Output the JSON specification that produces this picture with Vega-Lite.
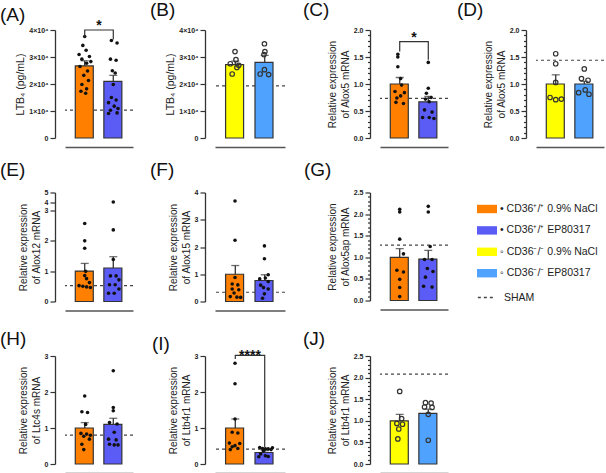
{
"$schema": "https://vega.github.io/schema/vega-lite/v6.json",
"padding": {"left": 0, "top": 1, "right": 0, "bottom": 0},
"background": "white",
"config": {
 "font": "Liberation Sans",
 "view": {"stroke": null},
 "axis": {"grid": false, "domainColor": "#333", "tickColor": "#333", "labelColor": "#222", "titleColor": "#222", "labelFont": "Liberation Sans", "titleFont": "Liberation Sans", "titleFontWeight": "normal", "labelOverlap": false},
 "axisX": {"labels": false, "ticks": false, "domainColor": "#555", "domainWidth": 1.6, "offset": 9},
 "axisY": {"offset": 10, "tickSize": 5, "labelPadding": 2, "titlePadding": 3, "domainWidth": 1.3, "tickWidth": 1.2, "labelFontSize": 7, "labelFontWeight": "bold", "titleFontSize": 10, "titleLineHeight": 13, "labelOverlap": false, "labelBound": false},
 "title": {"anchor": "start", "frame": "group", "fontSize": 19, "fontWeight": "normal", "color": "#111", "baseline": "alphabetic", "offset": 6},
 "legend": {"labelFont": "Liberation Sans", "labelColor": "#222"}
},
"datasets": {
 "summary": [
  {"p":"A","g":"WT NaCl","m":26700,"u":28600},{"p":"A","g":"WT EP","m":21000,"u":23200},
  {"p":"B","g":"KO NaCl","m":27200,"u":28500},{"p":"B","g":"KO EP","m":28000,"u":30600},
  {"p":"C","g":"WT NaCl","m":1.0,"u":1.12},{"p":"C","g":"WT EP","m":0.67,"u":0.77},
  {"p":"D","g":"KO NaCl","m":1.0,"u":1.17},{"p":"D","g":"KO EP","m":1.0,"u":1.05},
  {"p":"E","g":"WT NaCl","m":1.0,"u":1.25},{"p":"E","g":"WT EP","m":1.1,"u":1.47},
  {"p":"F","g":"WT NaCl","m":1.0,"u":1.32},{"p":"F","g":"WT EP","m":0.77,"u":0.98},
  {"p":"G","g":"WT NaCl","m":1.0,"u":1.2},{"p":"G","g":"WT EP","m":0.96,"u":1.16},
  {"p":"H","g":"WT NaCl","m":1.0,"u":1.15},{"p":"H","g":"WT EP","m":1.1,"u":1.27},
  {"p":"I","g":"WT NaCl","m":1.0,"u":1.25},{"p":"I","g":"WT EP","m":0.32,"u":0.37},
  {"p":"J","g":"KO NaCl","m":1.0,"u":1.15},{"p":"J","g":"KO EP","m":1.17,"u":1.27}
 ],
 "sham": [
  {"p":"A","v":10300},{"p":"B","v":19300},{"p":"C","v":0.735},{"p":"D","v":1.44},{"p":"E","v":0.52},
  {"p":"F","v":0.34},{"p":"G","v":1.28},{"p":"H","v":0.8},{"p":"I","v":0.415},{"p":"J","v":2.08}
 ],
 "br": [
  {"p":"A","g":"WT NaCl","v":37500,"o":1},{"p":"A","g":"WT NaCl","v":40000,"o":2},{"p":"A","g":"WT EP","v":40000,"o":3},{"p":"A","g":"WT EP","v":36500,"o":4},
  {"p":"C","g":"WT NaCl","v":1.6,"o":1},{"p":"C","g":"WT NaCl","v":1.785,"o":2},{"p":"C","g":"WT EP","v":1.785,"o":3},{"p":"C","g":"WT EP","v":1.45,"o":4},
  {"p":"I","g":"WT NaCl","v":2.92,"o":1},{"p":"I","g":"WT NaCl","v":3.02,"o":2},{"p":"I","g":"WT EP","v":3.02,"o":3},{"p":"I","g":"WT EP","v":0.47,"o":4}
 ],
 "stars": [
  {"p":"A","g":"WT NaCl","v":40000,"t":"*"},
  {"p":"C","g":"WT NaCl","v":1.785,"t":"*"},
  {"p":"I","g":"WT NaCl","v":2.9,"t":"****"}
 ],
 "pts": [
  {"p":"A","g":"WT NaCl","v":37600,"j":0},{"p":"A","g":"WT NaCl","v":34300,"j":-0.2},{"p":"A","g":"WT NaCl","v":32500,"j":0.15},{"p":"A","g":"WT NaCl","v":30900,"j":-0.6},{"p":"A","g":"WT NaCl","v":30200,"j":0.5},{"p":"A","g":"WT NaCl","v":29200,"j":-0.3},{"p":"A","g":"WT NaCl","v":28300,"j":0.65},{"p":"A","g":"WT NaCl","v":27700,"j":0.2},{"p":"A","g":"WT NaCl","v":26500,"j":-0.5},{"p":"A","g":"WT NaCl","v":24800,"j":0.3},{"p":"A","g":"WT NaCl","v":23200,"j":-0.1},{"p":"A","g":"WT NaCl","v":21300,"j":0.4},{"p":"A","g":"WT NaCl","v":19800,"j":-0.3},{"p":"A","g":"WT NaCl","v":18200,"j":0.2},{"p":"A","g":"WT NaCl","v":17300,"j":-0.4},{"p":"A","g":"WT NaCl","v":16600,"j":0.1},
  {"p":"A","g":"WT EP","v":36100,"j":-0.2},{"p":"A","g":"WT EP","v":35200,"j":0.4},{"p":"A","g":"WT EP","v":29200,"j":-0.3},{"p":"A","g":"WT EP","v":28800,"j":0.3},{"p":"A","g":"WT EP","v":24900,"j":-0.1},{"p":"A","g":"WT EP","v":24100,"j":0.2},{"p":"A","g":"WT EP","v":19800,"j":0},{"p":"A","g":"WT EP","v":15000,"j":-0.2},{"p":"A","g":"WT EP","v":14100,"j":0.3},{"p":"A","g":"WT EP","v":13100,"j":-0.5},{"p":"A","g":"WT EP","v":11800,"j":0.1},{"p":"A","g":"WT EP","v":10900,"j":0.5},{"p":"A","g":"WT EP","v":10300,"j":-0.3},{"p":"A","g":"WT EP","v":9100,"j":-0.5},{"p":"A","g":"WT EP","v":9300,"j":0.4},
  {"p":"B","g":"KO NaCl","v":32000,"j":0},{"p":"B","g":"KO NaCl","v":29000,"j":0.1},{"p":"B","g":"KO NaCl","v":27500,"j":-0.5},{"p":"B","g":"KO NaCl","v":26900,"j":0.4},{"p":"B","g":"KO NaCl","v":26100,"j":0.2},{"p":"B","g":"KO NaCl","v":23700,"j":-0.3},
  {"p":"B","g":"KO EP","v":34900,"j":0},{"p":"B","g":"KO EP","v":32000,"j":0.05},{"p":"B","g":"KO EP","v":30900,"j":-0.05},{"p":"B","g":"KO EP","v":25300,"j":0},{"p":"B","g":"KO EP","v":23700,"j":-0.45},{"p":"B","g":"KO EP","v":23500,"j":0.45},
  {"p":"C","g":"WT NaCl","v":1.55,"j":-0.2},{"p":"C","g":"WT NaCl","v":1.5,"j":-0.2},{"p":"C","g":"WT NaCl","v":1.32,"j":-0.2},{"p":"C","g":"WT NaCl","v":1.1,"j":0.1},{"p":"C","g":"WT NaCl","v":0.98,"j":0.2},{"p":"C","g":"WT NaCl","v":0.86,"j":-0.5},{"p":"C","g":"WT NaCl","v":0.84,"j":0.5},{"p":"C","g":"WT NaCl","v":0.78,"j":0.1},{"p":"C","g":"WT NaCl","v":0.74,"j":-0.3},{"p":"C","g":"WT NaCl","v":0.66,"j":-0.4},{"p":"C","g":"WT NaCl","v":0.64,"j":0.4},
  {"p":"C","g":"WT EP","v":1.4,"j":0},{"p":"C","g":"WT EP","v":0.92,"j":0},{"p":"C","g":"WT EP","v":0.83,"j":-0.2},{"p":"C","g":"WT EP","v":0.75,"j":0.3},{"p":"C","g":"WT EP","v":0.72,"j":-0.3},{"p":"C","g":"WT EP","v":0.67,"j":0.1},{"p":"C","g":"WT EP","v":0.52,"j":-0.4},{"p":"C","g":"WT EP","v":0.48,"j":0.4},{"p":"C","g":"WT EP","v":0.38,"j":-0.6},{"p":"C","g":"WT EP","v":0.38,"j":0.1},{"p":"C","g":"WT EP","v":0.36,"j":0.6},
  {"p":"D","g":"KO NaCl","v":1.56,"j":0},{"p":"D","g":"KO NaCl","v":1.375,"j":0},{"p":"D","g":"KO NaCl","v":1.03,"j":0},{"p":"D","g":"KO NaCl","v":0.75,"j":-0.6},{"p":"D","g":"KO NaCl","v":0.72,"j":0.6},{"p":"D","g":"KO NaCl","v":0.71,"j":0},
  {"p":"D","g":"KO EP","v":1.28,"j":0},{"p":"D","g":"KO EP","v":1.1,"j":-0.3},{"p":"D","g":"KO EP","v":1.07,"j":0.4},{"p":"D","g":"KO EP","v":0.89,"j":0.1},{"p":"D","g":"KO EP","v":0.84,"j":-0.6},{"p":"D","g":"KO EP","v":0.81,"j":0.5},
  {"p":"E","g":"WT NaCl","v":2.56,"j":0},{"p":"E","g":"WT NaCl","v":1.99,"j":0},{"p":"E","g":"WT NaCl","v":1.75,"j":0},{"p":"E","g":"WT NaCl","v":0.99,"j":0.1},{"p":"E","g":"WT NaCl","v":0.85,"j":0},{"p":"E","g":"WT NaCl","v":0.75,"j":0.2},{"p":"E","g":"WT NaCl","v":0.62,"j":0.5},{"p":"E","g":"WT NaCl","v":0.52,"j":-0.6},{"p":"E","g":"WT NaCl","v":0.5,"j":-0.2},{"p":"E","g":"WT NaCl","v":0.48,"j":0.2},{"p":"E","g":"WT NaCl","v":0.46,"j":0.6},
  {"p":"E","g":"WT EP","v":4.05,"j":0},{"p":"E","g":"WT EP","v":2.35,"j":0},{"p":"E","g":"WT EP","v":1.38,"j":0},{"p":"E","g":"WT EP","v":0.84,"j":-0.3},{"p":"E","g":"WT EP","v":0.84,"j":0.3},{"p":"E","g":"WT EP","v":0.71,"j":0.6},{"p":"E","g":"WT EP","v":0.55,"j":-0.4},{"p":"E","g":"WT EP","v":0.55,"j":0.2},{"p":"E","g":"WT EP","v":0.41,"j":0.6},{"p":"E","g":"WT EP","v":0.27,"j":-0.5},{"p":"E","g":"WT EP","v":0.27,"j":0.1},
  {"p":"F","g":"WT NaCl","v":3.69,"j":0},{"p":"F","g":"WT NaCl","v":2.25,"j":0},{"p":"F","g":"WT NaCl","v":0.88,"j":0},{"p":"F","g":"WT NaCl","v":0.64,"j":-0.3},{"p":"F","g":"WT NaCl","v":0.61,"j":0.3},{"p":"F","g":"WT NaCl","v":0.46,"j":-0.3},{"p":"F","g":"WT NaCl","v":0.43,"j":0.4},{"p":"F","g":"WT NaCl","v":0.31,"j":-0.1},{"p":"F","g":"WT NaCl","v":0.18,"j":-0.5},{"p":"F","g":"WT NaCl","v":0.16,"j":0.2},{"p":"F","g":"WT NaCl","v":0.15,"j":0.6},
  {"p":"F","g":"WT EP","v":2.04,"j":0},{"p":"F","g":"WT EP","v":1.57,"j":0},{"p":"F","g":"WT EP","v":0.98,"j":0.4},{"p":"F","g":"WT EP","v":0.86,"j":0.1},{"p":"F","g":"WT EP","v":0.83,"j":-0.5},{"p":"F","g":"WT EP","v":0.73,"j":0.4},{"p":"F","g":"WT EP","v":0.6,"j":-0.4},{"p":"F","g":"WT EP","v":0.51,"j":-0.1},{"p":"F","g":"WT EP","v":0.46,"j":0.4},{"p":"F","g":"WT EP","v":0.28,"j":0},{"p":"F","g":"WT EP","v":0.12,"j":-0.2},
  {"p":"G","g":"WT NaCl","v":2.11,"j":0},{"p":"G","g":"WT NaCl","v":2.05,"j":0},{"p":"G","g":"WT NaCl","v":1.42,"j":0},{"p":"G","g":"WT NaCl","v":1.08,"j":0.4},{"p":"G","g":"WT NaCl","v":0.7,"j":-0.3},{"p":"G","g":"WT NaCl","v":0.66,"j":0.4},{"p":"G","g":"WT NaCl","v":0.49,"j":0},{"p":"G","g":"WT NaCl","v":0.3,"j":0},{"p":"G","g":"WT NaCl","v":0.09,"j":0},
  {"p":"G","g":"WT EP","v":2.18,"j":0},{"p":"G","g":"WT EP","v":2.05,"j":0},{"p":"G","g":"WT EP","v":1.25,"j":0.2},{"p":"G","g":"WT EP","v":0.95,"j":-0.4},{"p":"G","g":"WT EP","v":0.95,"j":0.4},{"p":"G","g":"WT EP","v":0.74,"j":-0.1},{"p":"G","g":"WT EP","v":0.67,"j":0.5},{"p":"G","g":"WT EP","v":0.54,"j":-0.3},{"p":"G","g":"WT EP","v":0.33,"j":-0.5},{"p":"G","g":"WT EP","v":0.31,"j":0.4},
  {"p":"H","g":"WT NaCl","v":1.89,"j":0},{"p":"H","g":"WT NaCl","v":1.45,"j":-0.3},{"p":"H","g":"WT NaCl","v":1.43,"j":0.3},{"p":"H","g":"WT NaCl","v":1.1,"j":0.1},{"p":"H","g":"WT NaCl","v":0.85,"j":-0.4},{"p":"H","g":"WT NaCl","v":0.83,"j":0.2},{"p":"H","g":"WT NaCl","v":0.8,"j":0.6},{"p":"H","g":"WT NaCl","v":0.77,"j":-0.1},{"p":"H","g":"WT NaCl","v":0.69,"j":0.5},{"p":"H","g":"WT NaCl","v":0.55,"j":-0.3},{"p":"H","g":"WT NaCl","v":0.4,"j":-0.1},
  {"p":"H","g":"WT EP","v":2.59,"j":0},{"p":"H","g":"WT EP","v":1.57,"j":0},{"p":"H","g":"WT EP","v":1.48,"j":0},{"p":"H","g":"WT EP","v":1.15,"j":-0.4},{"p":"H","g":"WT EP","v":1.11,"j":0.4},{"p":"H","g":"WT EP","v":0.88,"j":0.1},{"p":"H","g":"WT EP","v":0.69,"j":-0.5},{"p":"H","g":"WT EP","v":0.67,"j":0.3},{"p":"H","g":"WT EP","v":0.55,"j":-0.4},{"p":"H","g":"WT EP","v":0.53,"j":0.1},{"p":"H","g":"WT EP","v":0.53,"j":0.5},
  {"p":"I","g":"WT NaCl","v":2.8,"j":0},{"p":"I","g":"WT NaCl","v":2.23,"j":0},{"p":"I","g":"WT NaCl","v":1.25,"j":0},{"p":"I","g":"WT NaCl","v":0.88,"j":-0.3},{"p":"I","g":"WT NaCl","v":0.86,"j":0.3},{"p":"I","g":"WT NaCl","v":0.58,"j":-0.6},{"p":"I","g":"WT NaCl","v":0.57,"j":0.5},{"p":"I","g":"WT NaCl","v":0.51,"j":0},{"p":"I","g":"WT NaCl","v":0.48,"j":-0.3},{"p":"I","g":"WT NaCl","v":0.43,"j":0.3},{"p":"I","g":"WT NaCl","v":0.4,"j":-0.5},
  {"p":"I","g":"WT EP","v":0.46,"j":-0.5},{"p":"I","g":"WT EP","v":0.43,"j":-0.2},{"p":"I","g":"WT EP","v":0.42,"j":0.1},{"p":"I","g":"WT EP","v":0.42,"j":0.4},{"p":"I","g":"WT EP","v":0.4,"j":0.7},{"p":"I","g":"WT EP","v":0.45,"j":0.85},{"p":"I","g":"WT EP","v":0.28,"j":-0.4},{"p":"I","g":"WT EP","v":0.23,"j":0.1},{"p":"I","g":"WT EP","v":0.21,"j":0.4},{"p":"I","g":"WT EP","v":0.37,"j":-0.1},{"p":"I","g":"WT EP","v":0.2,"j":-0.6},
  {"p":"J","g":"KO NaCl","v":1.68,"j":0},{"p":"J","g":"KO NaCl","v":1.05,"j":0.2},{"p":"J","g":"KO NaCl","v":0.94,"j":-0.3},{"p":"J","g":"KO NaCl","v":0.92,"j":0.3},{"p":"J","g":"KO NaCl","v":0.81,"j":-0.1},{"p":"J","g":"KO NaCl","v":0.58,"j":-0.2},
  {"p":"J","g":"KO EP","v":1.42,"j":-0.3},{"p":"J","g":"KO EP","v":1.41,"j":0.3},{"p":"J","g":"KO EP","v":1.32,"j":-0.4},{"p":"J","g":"KO EP","v":1.31,"j":0.4},{"p":"J","g":"KO EP","v":1.15,"j":0},{"p":"J","g":"KO EP","v":0.55,"j":0}
 ]
},
"columns": 7,
"spacing": {"row": 54.5, "column": 0},
"bounds": "flush",
"align": "each",
"concat": [
   {"title": {"text": "(A)", "dx": -65, "offset": -6}, "width": 68, "height": 108, "resolve": {"axis": {"y": "independent"}}, "layer": [
    {"data": {"name": "sham"}, "transform": [{"filter": "datum.p=='A'"}], "mark": {"type": "rule", "color": "#444", "strokeWidth": 1.2},
     "encoding": {"y": {"field": "v", "type": "quantitative", "axis": null}, "strokeDash": {"datum": "SHAM", "type": "nominal", "scale": {"domain": ["SHAM"], "range": [[3, 3]]}, "legend": {"orient": "none", "legendX": 412, "legendY": 258, "title": null, "symbolType": "stroke", "symbolSize": 300, "symbolStrokeColor": "#444", "symbolStrokeWidth": 1.3, "labelFontSize": 10.5, "labelOffset": 8}}}},
    {"data": {"name": "summary"}, "transform": [{"filter": "datum.p=='A'"}], "mark": {"type": "bar", "stroke": "#333", "strokeWidth": 1.2},
     "encoding": {"x": {"field": "g", "type": "nominal", "title": null, "scale": {"domain": ["WT NaCl", "WT EP"], "paddingInner": 0.34, "paddingOuter": 0.36}},
      "y": {"field": "m", "type": "quantitative", "scale": {"domain": [0, 40000], "nice": false}, "axis": {"title": "LTB₄ (pg/mL)", "titleFontSize": 10.5, "labelOverlap": false, "values": [0, 10000, 20000, 30000, 40000], "labelExpr": "datum.value == 0 ? '0' : format(datum.value/10000, 'd') + '×10⁴'"}},
      "color": {"field": "g", "type": "nominal", "scale": {"domain": ["WT NaCl", "WT EP", "KO NaCl", "KO EP"], "range": ["#FF8000", "#5B5BF6", "#FFFF00", "#4FA3FF"]},
       "legend": {"orient": "none", "legendX": 412, "legendY": 169, "title": null, "symbolType": "M-1,-0.42H1V0.42H-1Z", "symbolSize": 400, "symbolStrokeWidth": 0, "symbolOpacity": 1, "labelFontSize": 10.5, "labelOffset": 3, "rowPadding": 5.4,
        "labelExpr": "datum.label == 'WT NaCl' ? '•  CD36⁺/⁺ 0.9% NaCl' : datum.label == 'WT EP' ? '•  CD36⁺/⁺ EP80317' : datum.label == 'KO NaCl' ? '◦  CD36⁻/⁻ 0.9% NaCl' : '◦  CD36⁻/⁻ EP80317'"}}}},
    {"data": {"name": "summary"}, "transform": [{"filter": "datum.p=='A'"}], "mark": {"type": "rule", "color": "#333", "strokeWidth": 1.3}, "encoding": {"x": {"field": "g", "type": "nominal", "title": null}, "y": {"field": "m", "type": "quantitative", "axis": null}, "y2": {"field": "u"}}},
    {"data": {"name": "summary"}, "transform": [{"filter": "datum.p=='A'"}], "mark": {"type": "tick", "color": "#333", "thickness": 1.3, "size": 8}, "encoding": {"x": {"field": "g", "type": "nominal", "title": null}, "y": {"field": "u", "type": "quantitative", "axis": null}}},
    {"data": {"name": "pts"}, "transform": [{"filter": "datum.p=='A'"}], "mark": {"type": "point", "filled": true, "color": "#111", "size": 13, "opacity": 1}, "encoding": {"x": {"field": "g", "type": "nominal", "title": null}, "xOffset": {"field": "j", "type": "quantitative", "scale": {"domain": [-1, 1]}}, "y": {"field": "v", "type": "quantitative", "axis": null}}},
    {"data": {"name": "br"}, "transform": [{"filter": "datum.p=='A'"}], "mark": {"type": "line", "color": "#333", "strokeWidth": 1.2}, "encoding": {"x": {"field": "g", "type": "nominal", "title": null}, "y": {"field": "v", "type": "quantitative", "axis": null}, "order": {"field": "o", "type": "quantitative"}}},
    {"data": {"name": "stars"}, "transform": [{"filter": "datum.p=='A'"}], "mark": {"type": "text", "fontSize": 14, "fontWeight": "bold", "baseline": "alphabetic", "color": "#111"}, "encoding": {"x": {"field": "g", "type": "nominal", "title": null, "bandPosition": 1.258}, "y": {"field": "v", "type": "quantitative", "axis": null}, "text": {"field": "t"}}}
   ]},
   {"width": 82, "height": 10, "data": {"values": [{"a": 0}]}, "mark": {"type": "point", "opacity": 0}, "encoding": {}},
   {"title": {"text": "(B)", "dx": -65}, "width": 70, "height": 108, "resolve": {"axis": {"y": "independent"}}, "layer": [
    {"data": {"name": "sham"}, "transform": [{"filter": "datum.p=='B'"}], "mark": {"type": "rule", "color": "#444", "strokeWidth": 1.2, "strokeDash": [3, 3]}, "encoding": {"y": {"field": "v", "type": "quantitative", "axis": null}}},
    {"data": {"name": "summary"}, "transform": [{"filter": "datum.p=='B'"}], "mark": {"type": "bar", "stroke": "#333", "strokeWidth": 1.2},
     "encoding": {"x": {"field": "g", "type": "nominal", "title": null, "scale": {"domain": ["KO NaCl", "KO EP"], "paddingInner": 0.34, "paddingOuter": 0.36}},
      "y": {"field": "m", "type": "quantitative", "scale": {"domain": [0, 40000], "nice": false}, "axis": {"title": "LTB₄ (pg/mL)", "titleFontSize": 10.5, "labelOverlap": false, "values": [0, 10000, 20000, 30000, 40000], "labelExpr": "datum.value == 0 ? '0' : format(datum.value/10000, 'd') + '×10⁴'"}},
      "color": {"field": "g", "type": "nominal"}}},
    {"data": {"name": "summary"}, "transform": [{"filter": "datum.p=='B'"}], "mark": {"type": "rule", "color": "#333", "strokeWidth": 1.3}, "encoding": {"x": {"field": "g", "type": "nominal", "title": null}, "y": {"field": "m", "type": "quantitative", "axis": null}, "y2": {"field": "u"}}},
    {"data": {"name": "summary"}, "transform": [{"filter": "datum.p=='B'"}], "mark": {"type": "tick", "color": "#333", "thickness": 1.3, "size": 8}, "encoding": {"x": {"field": "g", "type": "nominal", "title": null}, "y": {"field": "u", "type": "quantitative", "axis": null}}},
    {"data": {"name": "pts"}, "transform": [{"filter": "datum.p=='B'"}], "mark": {"type": "point", "filled": false, "color": "#333", "strokeWidth": 1.2, "size": 20, "opacity": 1}, "encoding": {"x": {"field": "g", "type": "nominal", "title": null}, "xOffset": {"field": "j", "type": "quantitative", "scale": {"domain": [-1, 1]}}, "y": {"field": "v", "type": "quantitative", "axis": null}}}
   ]},
   {"width": 95, "height": 10, "data": {"values": [{"a": 0}]}, "mark": {"type": "point", "opacity": 0}, "encoding": {}},
   {"title": {"text": "(C)", "dx": -77}, "width": 68, "height": 108, "resolve": {"axis": {"y": "independent"}}, "layer": [
    {"data": {"name": "sham"}, "transform": [{"filter": "datum.p=='C'"}], "mark": {"type": "rule", "color": "#444", "strokeWidth": 1.2, "strokeDash": [3, 3]}, "encoding": {"y": {"field": "v", "type": "quantitative", "axis": null}}},
    {"data": {"name": "summary"}, "transform": [{"filter": "datum.p=='C'"}], "mark": {"type": "bar", "stroke": "#333", "strokeWidth": 1.2},
     "encoding": {"x": {"field": "g", "type": "nominal", "title": null, "scale": {"domain": ["WT NaCl", "WT EP"], "paddingInner": 0.34, "paddingOuter": 0.36}},
      "y": {"field": "m", "type": "quantitative", "scale": {"domain": [0, 2], "nice": false}, "axis": {"title": ["Relative expression", "of Alox5 mRNA"], "labelOverlap": false, "values": [0,0.1,0.2,0.3,0.4,0.5,0.6,0.7,0.8,0.9,1,1.1,1.2,1.3,1.4,1.5,1.6,1.7,1.8,1.9,2], "labelExpr": "round(datum.value*10) % 5 == 0 ? format(datum.value, '.1f') : ''", "tickSize": {"condition": {"test": "round(datum.value*10) % 5 == 0", "value": 5}, "value": 2.5}}},
      "color": {"field": "g", "type": "nominal"}}},
    {"data": {"name": "summary"}, "transform": [{"filter": "datum.p=='C'"}], "mark": {"type": "rule", "color": "#333", "strokeWidth": 1.3}, "encoding": {"x": {"field": "g", "type": "nominal", "title": null}, "y": {"field": "m", "type": "quantitative", "axis": null}, "y2": {"field": "u"}}},
    {"data": {"name": "summary"}, "transform": [{"filter": "datum.p=='C'"}], "mark": {"type": "tick", "color": "#333", "thickness": 1.3, "size": 8}, "encoding": {"x": {"field": "g", "type": "nominal", "title": null}, "y": {"field": "u", "type": "quantitative", "axis": null}}},
    {"data": {"name": "pts"}, "transform": [{"filter": "datum.p=='C'"}], "mark": {"type": "point", "filled": true, "color": "#111", "size": 13, "opacity": 1}, "encoding": {"x": {"field": "g", "type": "nominal", "title": null}, "xOffset": {"field": "j", "type": "quantitative", "scale": {"domain": [-1, 1]}}, "y": {"field": "v", "type": "quantitative", "axis": null}}},
    {"data": {"name": "br"}, "transform": [{"filter": "datum.p=='C'"}], "mark": {"type": "line", "color": "#333", "strokeWidth": 1.2}, "encoding": {"x": {"field": "g", "type": "nominal", "title": null}, "y": {"field": "v", "type": "quantitative", "axis": null}, "order": {"field": "o", "type": "quantitative"}}},
    {"data": {"name": "stars"}, "transform": [{"filter": "datum.p=='C'"}], "mark": {"type": "text", "fontSize": 14, "fontWeight": "bold", "baseline": "alphabetic", "color": "#111"}, "encoding": {"x": {"field": "g", "type": "nominal", "title": null, "bandPosition": 1.258}, "y": {"field": "v", "type": "quantitative", "axis": null}, "text": {"field": "t"}}}
   ]},
   {"width": 88, "height": 10, "data": {"values": [{"a": 0}]}, "mark": {"type": "point", "opacity": 0}, "encoding": {}},
   {"title": {"text": "(D)", "dx": -79}, "width": 68, "height": 108, "resolve": {"axis": {"y": "independent"}}, "layer": [
    {"data": {"name": "sham"}, "transform": [{"filter": "datum.p=='D'"}], "mark": {"type": "rule", "color": "#444", "strokeWidth": 1.2, "strokeDash": [3, 3]}, "encoding": {"y": {"field": "v", "type": "quantitative", "axis": null}}},
    {"data": {"name": "summary"}, "transform": [{"filter": "datum.p=='D'"}], "mark": {"type": "bar", "stroke": "#333", "strokeWidth": 1.2},
     "encoding": {"x": {"field": "g", "type": "nominal", "title": null, "scale": {"domain": ["KO NaCl", "KO EP"], "paddingInner": 0.34, "paddingOuter": 0.36}},
      "y": {"field": "m", "type": "quantitative", "scale": {"domain": [0, 2], "nice": false}, "axis": {"title": ["Relative expression", "of Alox5 mRNA"], "labelOverlap": false, "values": [0,0.1,0.2,0.3,0.4,0.5,0.6,0.7,0.8,0.9,1,1.1,1.2,1.3,1.4,1.5,1.6,1.7,1.8,1.9,2], "labelExpr": "round(datum.value*10) % 5 == 0 ? format(datum.value, '.1f') : ''", "tickSize": {"condition": {"test": "round(datum.value*10) % 5 == 0", "value": 5}, "value": 2.5}}},
      "color": {"field": "g", "type": "nominal"}}},
    {"data": {"name": "summary"}, "transform": [{"filter": "datum.p=='D'"}], "mark": {"type": "rule", "color": "#333", "strokeWidth": 1.3}, "encoding": {"x": {"field": "g", "type": "nominal", "title": null}, "y": {"field": "m", "type": "quantitative", "axis": null}, "y2": {"field": "u"}}},
    {"data": {"name": "summary"}, "transform": [{"filter": "datum.p=='D'"}], "mark": {"type": "tick", "color": "#333", "thickness": 1.3, "size": 8}, "encoding": {"x": {"field": "g", "type": "nominal", "title": null}, "y": {"field": "u", "type": "quantitative", "axis": null}}},
    {"data": {"name": "pts"}, "transform": [{"filter": "datum.p=='D'"}], "mark": {"type": "point", "filled": false, "color": "#333", "strokeWidth": 1.2, "size": 20, "opacity": 1}, "encoding": {"x": {"field": "g", "type": "nominal", "title": null}, "xOffset": {"field": "j", "type": "quantitative", "scale": {"domain": [-1, 1]}}, "y": {"field": "v", "type": "quantitative", "axis": null}}}
   ]},
   {"title": {"text": "(E)", "dx": -65, "offset": 8.5}, "width": 68, "height": 109, "resolve": {"axis": {"y": "independent"}}, "layer": [
    {"data": {"name": "sham"}, "transform": [{"filter": "datum.p=='E'"}], "mark": {"type": "rule", "color": "#444", "strokeWidth": 1.2, "strokeDash": [3, 3]}, "encoding": {"y": {"field": "v", "type": "quantitative", "axis": null}}},
    {"data": {"name": "summary"}, "transform": [{"filter": "datum.p=='E'"}], "mark": {"type": "bar", "stroke": "#333", "strokeWidth": 1.2},
     "encoding": {"x": {"field": "g", "type": "nominal", "title": null, "scale": {"domain": ["WT NaCl", "WT EP"], "paddingInner": 0.34, "paddingOuter": 0.36}},
      "y": {"field": "m", "type": "quantitative", "scale": {"domain": [0, 3, 4, 5], "range": [109, 17.6, 10, 0], "nice": false, "zero": false}, "axis": {"title": ["Relative expression", "of Alox12 mRNA"], "labelOverlap": false, "values": [0, 1, 2, 3, 4, 5]}},
      "color": {"field": "g", "type": "nominal"}}},
    {"data": {"name": "summary"}, "transform": [{"filter": "datum.p=='E'"}], "mark": {"type": "rule", "color": "#333", "strokeWidth": 1.3}, "encoding": {"x": {"field": "g", "type": "nominal", "title": null}, "y": {"field": "m", "type": "quantitative", "axis": null}, "y2": {"field": "u"}}},
    {"data": {"name": "summary"}, "transform": [{"filter": "datum.p=='E'"}], "mark": {"type": "tick", "color": "#333", "thickness": 1.3, "size": 8}, "encoding": {"x": {"field": "g", "type": "nominal", "title": null}, "y": {"field": "u", "type": "quantitative", "axis": null}}},
    {"data": {"name": "pts"}, "transform": [{"filter": "datum.p=='E'"}], "mark": {"type": "point", "filled": true, "color": "#111", "size": 13, "opacity": 1}, "encoding": {"x": {"field": "g", "type": "nominal", "title": null}, "xOffset": {"field": "j", "type": "quantitative", "scale": {"domain": [-1, 1]}}, "y": {"field": "v", "type": "quantitative", "axis": null}}}
   ]},
   {"width": 82, "height": 10, "data": {"values": [{"a": 0}]}, "mark": {"type": "point", "opacity": 0}, "encoding": {}},
   {"title": {"text": "(F)", "dx": -65, "offset": 8.5}, "width": 70, "height": 109, "resolve": {"axis": {"y": "independent"}}, "layer": [
    {"data": {"name": "sham"}, "transform": [{"filter": "datum.p=='F'"}], "mark": {"type": "rule", "color": "#444", "strokeWidth": 1.2, "strokeDash": [3, 3]}, "encoding": {"y": {"field": "v", "type": "quantitative", "axis": null}}},
    {"data": {"name": "summary"}, "transform": [{"filter": "datum.p=='F'"}], "mark": {"type": "bar", "stroke": "#333", "strokeWidth": 1.2},
     "encoding": {"x": {"field": "g", "type": "nominal", "title": null, "scale": {"domain": ["WT NaCl", "WT EP"], "paddingInner": 0.34, "paddingOuter": 0.36}},
      "y": {"field": "m", "type": "quantitative", "scale": {"domain": [0, 4], "nice": false}, "axis": {"title": ["Relative expression", "of Alox15 mRNA"], "labelOverlap": false, "values": [0, 1, 2, 3, 4]}},
      "color": {"field": "g", "type": "nominal"}}},
    {"data": {"name": "summary"}, "transform": [{"filter": "datum.p=='F'"}], "mark": {"type": "rule", "color": "#333", "strokeWidth": 1.3}, "encoding": {"x": {"field": "g", "type": "nominal", "title": null}, "y": {"field": "m", "type": "quantitative", "axis": null}, "y2": {"field": "u"}}},
    {"data": {"name": "summary"}, "transform": [{"filter": "datum.p=='F'"}], "mark": {"type": "tick", "color": "#333", "thickness": 1.3, "size": 8}, "encoding": {"x": {"field": "g", "type": "nominal", "title": null}, "y": {"field": "u", "type": "quantitative", "axis": null}}},
    {"data": {"name": "pts"}, "transform": [{"filter": "datum.p=='F'"}], "mark": {"type": "point", "filled": true, "color": "#111", "size": 13, "opacity": 1}, "encoding": {"x": {"field": "g", "type": "nominal", "title": null}, "xOffset": {"field": "j", "type": "quantitative", "scale": {"domain": [-1, 1]}}, "y": {"field": "v", "type": "quantitative", "axis": null}}}
   ]},
   {"width": 95, "height": 10, "data": {"values": [{"a": 0}]}, "mark": {"type": "point", "opacity": 0}, "encoding": {}},
   {"title": {"text": "(G)", "dx": -76, "offset": 8.5}, "width": 68, "height": 108, "resolve": {"axis": {"y": "independent"}}, "layer": [
    {"data": {"name": "sham"}, "transform": [{"filter": "datum.p=='G'"}], "mark": {"type": "rule", "color": "#444", "strokeWidth": 1.2, "strokeDash": [3, 3]}, "encoding": {"y": {"field": "v", "type": "quantitative", "axis": null}}},
    {"data": {"name": "summary"}, "transform": [{"filter": "datum.p=='G'"}], "mark": {"type": "bar", "stroke": "#333", "strokeWidth": 1.2},
     "encoding": {"x": {"field": "g", "type": "nominal", "title": null, "scale": {"domain": ["WT NaCl", "WT EP"], "paddingInner": 0.34, "paddingOuter": 0.36}},
      "y": {"field": "m", "type": "quantitative", "scale": {"domain": [0, 2.5], "nice": false}, "axis": {"title": ["Relative expression", "of Alox5ap mRNA"], "labelOverlap": false, "values": [0,0.1,0.2,0.3,0.4,0.5,0.6,0.7,0.8,0.9,1,1.1,1.2,1.3,1.4,1.5,1.6,1.7,1.8,1.9,2,2.1,2.2,2.3,2.4,2.5], "labelExpr": "round(datum.value*10) % 5 == 0 ? format(datum.value, '.1f') : ''", "tickSize": {"condition": {"test": "round(datum.value*10) % 5 == 0", "value": 5}, "value": 2.5}}},
      "color": {"field": "g", "type": "nominal"}}},
    {"data": {"name": "summary"}, "transform": [{"filter": "datum.p=='G'"}], "mark": {"type": "rule", "color": "#333", "strokeWidth": 1.3}, "encoding": {"x": {"field": "g", "type": "nominal", "title": null}, "y": {"field": "m", "type": "quantitative", "axis": null}, "y2": {"field": "u"}}},
    {"data": {"name": "summary"}, "transform": [{"filter": "datum.p=='G'"}], "mark": {"type": "tick", "color": "#333", "thickness": 1.3, "size": 8}, "encoding": {"x": {"field": "g", "type": "nominal", "title": null}, "y": {"field": "u", "type": "quantitative", "axis": null}}},
    {"data": {"name": "pts"}, "transform": [{"filter": "datum.p=='G'"}], "mark": {"type": "point", "filled": true, "color": "#111", "size": 13, "opacity": 1}, "encoding": {"x": {"field": "g", "type": "nominal", "title": null}, "xOffset": {"field": "j", "type": "quantitative", "scale": {"domain": [-1, 1]}}, "y": {"field": "v", "type": "quantitative", "axis": null}}}
   ]},
   {"width": 88, "height": 10, "data": {"values": [{"a": 0}]}, "mark": {"type": "point", "opacity": 0}, "encoding": {}},
   {"width": 68, "height": 10, "data": {"values": [{"a": 0}]}, "mark": {"type": "point", "opacity": 0}, "encoding": {}},
   {"title": {"text": "(H)", "dx": -65, "offset": 3}, "width": 68, "height": 108, "resolve": {"axis": {"y": "independent"}}, "layer": [
    {"data": {"name": "sham"}, "transform": [{"filter": "datum.p=='H'"}], "mark": {"type": "rule", "color": "#444", "strokeWidth": 1.2, "strokeDash": [3, 3]}, "encoding": {"y": {"field": "v", "type": "quantitative", "axis": null}}},
    {"data": {"name": "summary"}, "transform": [{"filter": "datum.p=='H'"}], "mark": {"type": "bar", "stroke": "#333", "strokeWidth": 1.2},
     "encoding": {"x": {"field": "g", "type": "nominal", "title": null, "scale": {"domain": ["WT NaCl", "WT EP"], "paddingInner": 0.34, "paddingOuter": 0.36}},
      "y": {"field": "m", "type": "quantitative", "scale": {"domain": [0, 3], "nice": false}, "axis": {"title": ["Relative expression", "of Ltc4s mRNA"], "labelOverlap": false, "values": [0, 1, 2, 3]}},
      "color": {"field": "g", "type": "nominal"}}},
    {"data": {"name": "summary"}, "transform": [{"filter": "datum.p=='H'"}], "mark": {"type": "rule", "color": "#333", "strokeWidth": 1.3}, "encoding": {"x": {"field": "g", "type": "nominal", "title": null}, "y": {"field": "m", "type": "quantitative", "axis": null}, "y2": {"field": "u"}}},
    {"data": {"name": "summary"}, "transform": [{"filter": "datum.p=='H'"}], "mark": {"type": "tick", "color": "#333", "thickness": 1.3, "size": 8}, "encoding": {"x": {"field": "g", "type": "nominal", "title": null}, "y": {"field": "u", "type": "quantitative", "axis": null}}},
    {"data": {"name": "pts"}, "transform": [{"filter": "datum.p=='H'"}], "mark": {"type": "point", "filled": true, "color": "#111", "size": 13, "opacity": 1}, "encoding": {"x": {"field": "g", "type": "nominal", "title": null}, "xOffset": {"field": "j", "type": "quantitative", "scale": {"domain": [-1, 1]}}, "y": {"field": "v", "type": "quantitative", "axis": null}}}
   ]},
   {"width": 82, "height": 10, "data": {"values": [{"a": 0}]}, "mark": {"type": "point", "opacity": 0}, "encoding": {}},
   {"title": {"text": "(I)", "dx": -63, "offset": -5.4}, "width": 70, "height": 108, "resolve": {"axis": {"y": "independent"}}, "layer": [
    {"data": {"name": "sham"}, "transform": [{"filter": "datum.p=='I'"}], "mark": {"type": "rule", "color": "#444", "strokeWidth": 1.2, "strokeDash": [3, 3]}, "encoding": {"y": {"field": "v", "type": "quantitative", "axis": null}}},
    {"data": {"name": "summary"}, "transform": [{"filter": "datum.p=='I'"}], "mark": {"type": "bar", "stroke": "#333", "strokeWidth": 1.2},
     "encoding": {"x": {"field": "g", "type": "nominal", "title": null, "scale": {"domain": ["WT NaCl", "WT EP"], "paddingInner": 0.34, "paddingOuter": 0.36}},
      "y": {"field": "m", "type": "quantitative", "scale": {"domain": [0, 3], "nice": false}, "axis": {"title": ["Relative expression", "of Ltb4r1 mRNA"], "labelOverlap": false, "values": [0, 1, 2, 3]}},
      "color": {"field": "g", "type": "nominal"}}},
    {"data": {"name": "summary"}, "transform": [{"filter": "datum.p=='I'"}], "mark": {"type": "rule", "color": "#333", "strokeWidth": 1.3}, "encoding": {"x": {"field": "g", "type": "nominal", "title": null}, "y": {"field": "m", "type": "quantitative", "axis": null}, "y2": {"field": "u"}}},
    {"data": {"name": "summary"}, "transform": [{"filter": "datum.p=='I'"}], "mark": {"type": "tick", "color": "#333", "thickness": 1.3, "size": 8}, "encoding": {"x": {"field": "g", "type": "nominal", "title": null}, "y": {"field": "u", "type": "quantitative", "axis": null}}},
    {"data": {"name": "pts"}, "transform": [{"filter": "datum.p=='I'"}], "mark": {"type": "point", "filled": true, "color": "#111", "size": 13, "opacity": 1}, "encoding": {"x": {"field": "g", "type": "nominal", "title": null}, "xOffset": {"field": "j", "type": "quantitative", "scale": {"domain": [-1, 1]}}, "y": {"field": "v", "type": "quantitative", "axis": null}}},
    {"data": {"name": "br"}, "transform": [{"filter": "datum.p=='I'"}], "mark": {"type": "line", "color": "#333", "strokeWidth": 1.2}, "encoding": {"x": {"field": "g", "type": "nominal", "title": null}, "y": {"field": "v", "type": "quantitative", "axis": null}, "order": {"field": "o", "type": "quantitative"}}},
    {"data": {"name": "stars"}, "transform": [{"filter": "datum.p=='I'"}], "mark": {"type": "text", "fontSize": 14, "fontWeight": "bold", "baseline": "alphabetic", "color": "#111"}, "encoding": {"x": {"field": "g", "type": "nominal", "title": null, "bandPosition": 1.258}, "y": {"field": "v", "type": "quantitative", "axis": null}, "text": {"field": "t"}}}
   ]},
   {"width": 95, "height": 10, "data": {"values": [{"a": 0}]}, "mark": {"type": "point", "opacity": 0}, "encoding": {}},
   {"title": {"text": "(J)", "dx": -77, "offset": 3}, "width": 68, "height": 108, "resolve": {"axis": {"y": "independent"}}, "layer": [
    {"data": {"name": "sham"}, "transform": [{"filter": "datum.p=='J'"}], "mark": {"type": "rule", "color": "#444", "strokeWidth": 1.2, "strokeDash": [3, 3]}, "encoding": {"y": {"field": "v", "type": "quantitative", "axis": null}}},
    {"data": {"name": "summary"}, "transform": [{"filter": "datum.p=='J'"}], "mark": {"type": "bar", "stroke": "#333", "strokeWidth": 1.2},
     "encoding": {"x": {"field": "g", "type": "nominal", "title": null, "scale": {"domain": ["KO NaCl", "KO EP"], "paddingInner": 0.34, "paddingOuter": 0.36}},
      "y": {"field": "m", "type": "quantitative", "scale": {"domain": [0, 2.5], "nice": false}, "axis": {"title": ["Relative expression", "of Ltb4r1 mRNA"], "labelOverlap": false, "values": [0,0.1,0.2,0.3,0.4,0.5,0.6,0.7,0.8,0.9,1,1.1,1.2,1.3,1.4,1.5,1.6,1.7,1.8,1.9,2,2.1,2.2,2.3,2.4,2.5], "labelExpr": "round(datum.value*10) % 5 == 0 ? format(datum.value, '.1f') : ''", "tickSize": {"condition": {"test": "round(datum.value*10) % 5 == 0", "value": 5}, "value": 2.5}}},
      "color": {"field": "g", "type": "nominal"}}},
    {"data": {"name": "summary"}, "transform": [{"filter": "datum.p=='J'"}], "mark": {"type": "rule", "color": "#333", "strokeWidth": 1.3}, "encoding": {"x": {"field": "g", "type": "nominal", "title": null}, "y": {"field": "m", "type": "quantitative", "axis": null}, "y2": {"field": "u"}}},
    {"data": {"name": "summary"}, "transform": [{"filter": "datum.p=='J'"}], "mark": {"type": "tick", "color": "#333", "thickness": 1.3, "size": 8}, "encoding": {"x": {"field": "g", "type": "nominal", "title": null}, "y": {"field": "u", "type": "quantitative", "axis": null}}},
    {"data": {"name": "pts"}, "transform": [{"filter": "datum.p=='J'"}], "mark": {"type": "point", "filled": false, "color": "#333", "strokeWidth": 1.2, "size": 20, "opacity": 1}, "encoding": {"x": {"field": "g", "type": "nominal", "title": null}, "xOffset": {"field": "j", "type": "quantitative", "scale": {"domain": [-1, 1]}}, "y": {"field": "v", "type": "quantitative", "axis": null}}}
   ]}
]
}
